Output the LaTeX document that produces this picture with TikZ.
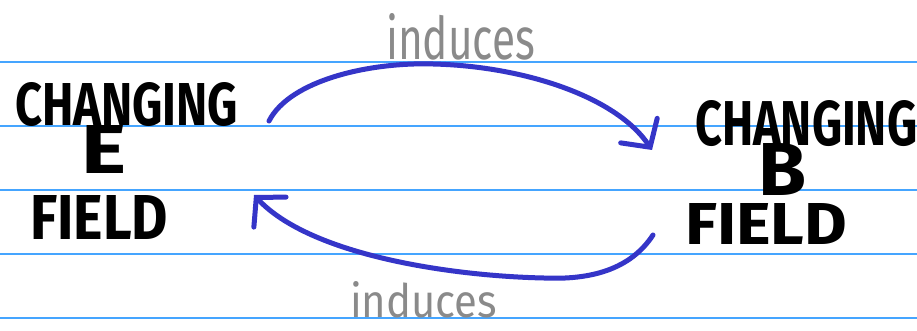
\documentclass[tikz,border=0pt]{standalone}
\usepackage{fontspec}
\setmainfont{Fira Sans}
\XeTeXuseglyphmetrics=1
\usetikzlibrary{arrows.meta}
\definecolor{ruleblue}{HTML}{45A5FF}
\definecolor{penblue}{HTML}{3535C8}
\definecolor{pengray}{HTML}{8A8A8A}
\begin{document}
\begin{tikzpicture}[x=1pt,y=-1pt,
  ruling/.style={ruleblue,line width=1.6pt},
  word/.style={inner sep=0pt,anchor=south west,font=\bfseries},
  lbl/.style={inner sep=0pt,anchor=south west,text=pengray,font=\mdseries},
  induct/.style={penblue,line width=5pt,line cap=round,-{Straight Barb[length=20pt,width=44pt,line cap=round]}}]
\useasboundingbox (0,0) rectangle (917,331);
\fill[white] (0,0) rectangle (917,331);
\foreach \y in {62,126,190,254,318} \draw[ruling] (0,\y) -- (917,\y);
% left label
\node[word] (lchg) at (15,127) {\resizebox{223pt}{43pt}{CHANGING}};
\node[word] (le) at (81,174) {\raisebox{0pt}[34pt][0pt]{\resizebox{45pt}{48pt}{E}}};
\node[word] (lfld) at (30,240) {\resizebox{138pt}{44pt}{FIELD}};
% right label
\node[word] (rchg) at (695,147) {\resizebox{222pt}{45pt}{CHANGING}};
\node[word] (rb) at (758,196) {\raisebox{0pt}[38pt][0pt]{\resizebox{48pt}{52pt}{B}}};
\node[word] (rfld) at (685,245) {\resizebox{162pt}{41pt}{FIELD}};
% induces labels
\node[lbl] (itop) at (386,60) {\resizebox{149pt}{46pt}{induces}};
\node[lbl] (ibot) at (350,318) {\resizebox{147pt}{36pt}{induces}};
% arrows
\coordinate (ts) at (269,121);
\coordinate (te) at (652,150);
\coordinate (bs) at (653,235);
\coordinate (be) at (254,195);
\draw[induct] (ts) .. controls (290,80) and (370,62) .. (433,64) .. controls (520,66) and (615,95) .. (te);
\draw[induct] (bs) .. controls (630,270) and (590,280) .. (544,278) .. controls (450,276) and (310,255) .. (be);
\end{tikzpicture}
\end{document}
